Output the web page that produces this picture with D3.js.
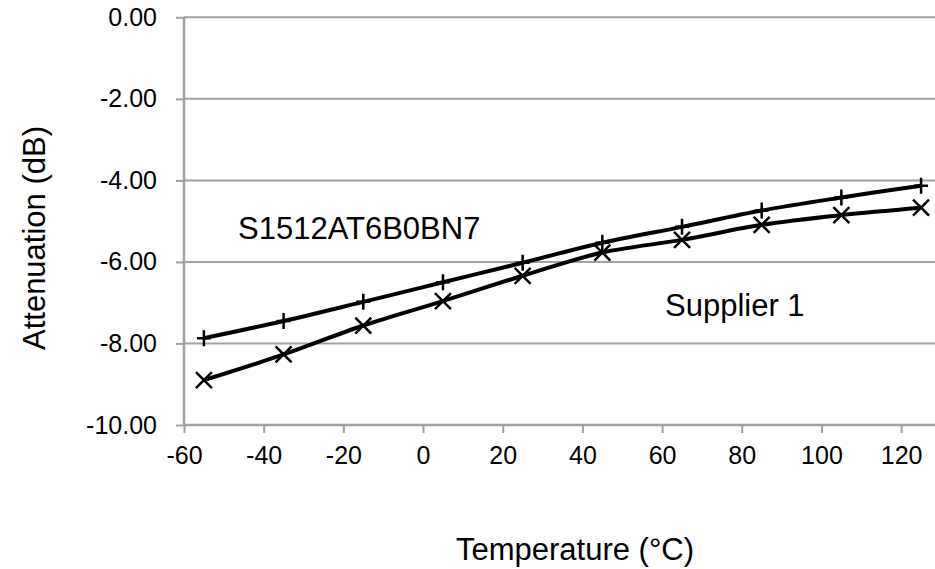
<!DOCTYPE html>
<html>
<head>
<meta charset="utf-8">
<script src="https://cdn.jsdelivr.net/npm/d3@7"></script>
<style>
	html, body { margin: 0; padding: 0; background: #fff; }
	svg { display: block; font-family: "Liberation Sans", Arial, sans-serif; }
</style>
</head>
<body>
<div id="app"></div>
<script>
const temps = [-55, -35, -15, 5, 25, 45, 65, 85, 105, 125];
const plusSeries = [-7.87, -7.45, -6.98, -6.50, -6.02, -5.53, -5.14, -4.74, -4.42, -4.13];
const crossSeries = [-8.90, -8.27, -7.56, -6.96, -6.34, -5.77, -5.46, -5.09, -4.85, -4.67];
const xTicks = [-60, -40, -20, 0, 20, 40, 60, 80, 100, 120];
const yTicks = [0, -2, -4, -6, -8, -10];

const width = 935;
const height = 569;
const gridColor = '#a0a0a0';

const svg = d3.select('#app').append('svg')
	.attr('width', width)
	.attr('height', height);

// plot runs off the right edge of the picture
const x = d3.scaleLinear().domain([-60, 128.5]).range([184, 935]);
const y = d3.scaleLinear().domain([-10, 0]).range([425, 17.3]);

// horizontal gridlines
svg.append('g')
	.selectAll('line')
	.data(yTicks.filter((d) => d !== -10))
	.enter()
	.append('line')
	.attr('x1', x(-60))
	.attr('x2', width)
	.attr('y1', (d) => y(d))
	.attr('y2', (d) => y(d))
	.attr('stroke', gridColor)
	.attr('stroke-width', 2);

const yAxis = svg.append('g')
	.attr('transform', `translate(${x(-60)},0)`)
	.call(d3.axisLeft(y).tickValues(yTicks).tickSize(8).tickPadding(19).tickFormat((d) => d.toFixed(2)));

const xAxis = svg.append('g')
	.attr('transform', `translate(0,${y(-10)})`)
	.call(d3.axisBottom(x).tickValues(xTicks).tickSize(8).tickPadding(13).tickFormat((d) => `${d}`));

[yAxis, xAxis].forEach((axis) => {
	axis.select('.domain').attr('stroke', gridColor).attr('stroke-width', 2.5);
	axis.selectAll('.tick line').attr('stroke', gridColor).attr('stroke-width', 2);
	axis.selectAll('text')
		.attr('fill', '#000')
		.attr('font-size', 25)
		.attr('font-family', '"Liberation Sans", Arial, sans-serif');
});
xAxis.select('.domain').attr('d', `M${x(-60)},0H${width}`);
yAxis.select('.domain').attr('d', `M0,${y(0)}V${y(-10)}`);

const line = d3.line()
	.x((d, i) => x(temps[i]))
	.y((d) => y(d))
	.curve(d3.curveCatmullRom);

[plusSeries, crossSeries].forEach((series) => {
	svg.append('path')
		.datum(series)
		.attr('fill', 'none')
		.attr('stroke', '#000')
		.attr('stroke-width', 4)
		.attr('stroke-linejoin', 'round')
		.attr('d', line);
});

// + markers
svg.append('g')
	.selectAll('path')
	.data(plusSeries)
	.enter()
	.append('path')
	.attr('d', (d, i) => {
		const cx = x(temps[i]);
		const cy = y(d);
		return `M${cx - 7},${cy}H${cx + 7}M${cx},${cy - 8}V${cy + 8}`;
	})
	.attr('stroke', '#000')
	.attr('stroke-width', 2.5)
	.attr('fill', 'none');

// x markers
svg.append('g')
	.selectAll('path')
	.data(crossSeries)
	.enter()
	.append('path')
	.attr('d', (d, i) => {
		const cx = x(temps[i]);
		const cy = y(d);
		return `M${cx - 8},${cy - 8}L${cx + 8},${cy + 8}M${cx - 8},${cy + 8}L${cx + 8},${cy - 8}`;
	})
	.attr('stroke', '#000')
	.attr('stroke-width', 2.5)
	.attr('fill', 'none');

// labels
svg.append('text')
	.attr('x', 238)
	.attr('y', 239)
	.attr('font-size', 31)
	.text('S1512AT6B0BN7');

svg.append('text')
	.attr('x', 665)
	.attr('y', 316)
	.attr('font-size', 31)
	.text('Supplier 1');

svg.append('text')
	.attr('x', 575)
	.attr('y', 560)
	.attr('text-anchor', 'middle')
	.attr('font-size', 31)
	.text('Temperature (°C)');

svg.append('text')
	.attr('transform', 'translate(45,238) rotate(-90)')
	.attr('text-anchor', 'middle')
	.attr('font-size', 31)
	.text('Attenuation (dB)');
</script>
</body>
</html>
